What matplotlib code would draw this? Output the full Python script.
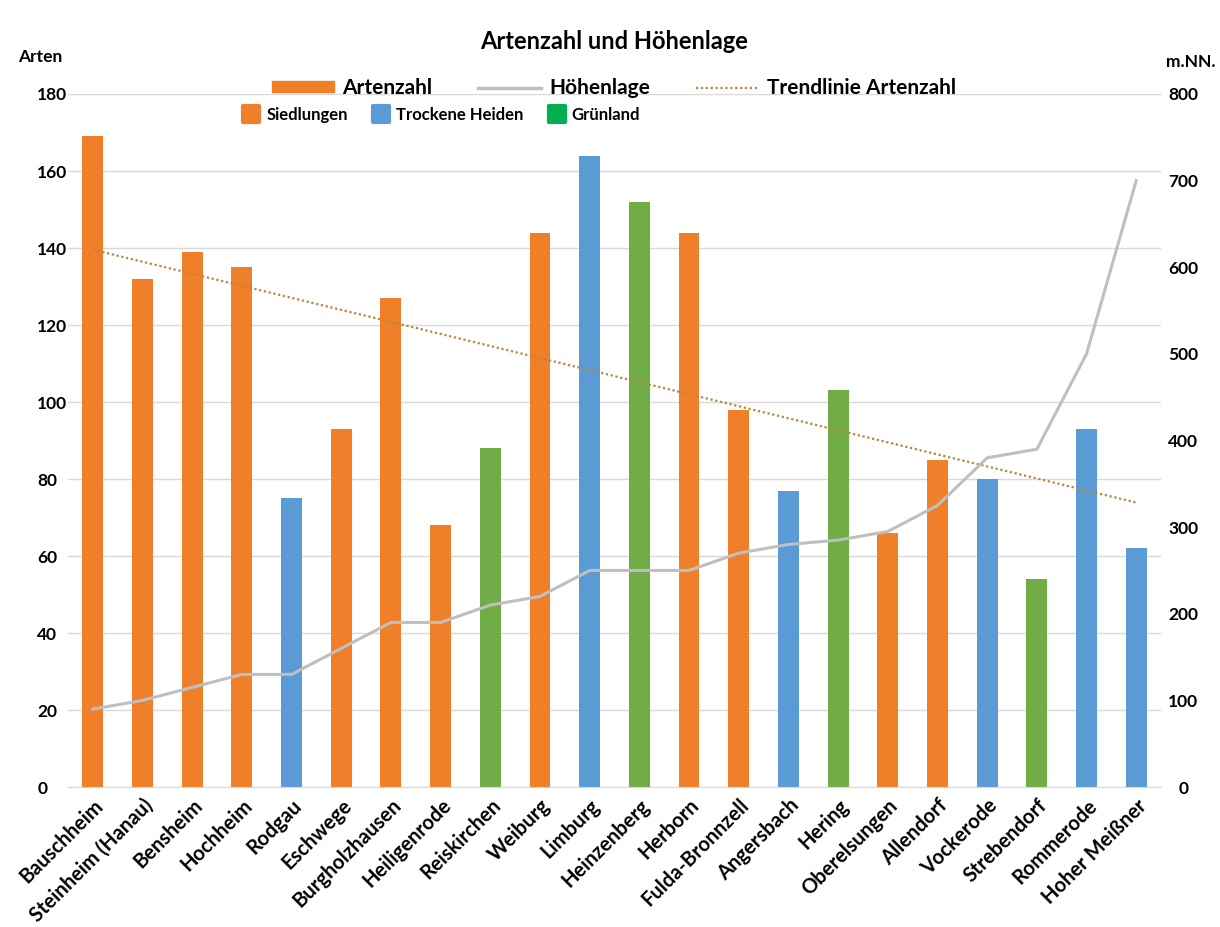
import numpy as np
import matplotlib
matplotlib.use("Agg")
import matplotlib.pyplot as plt
from matplotlib.patches import Patch
from matplotlib.lines import Line2D
from matplotlib.markers import MarkerStyle

plt.rcParams['font.family'] = ['Lato', 'DejaVu Sans']
plt.rcParams['font.weight'] = 'bold'

# data
orte = ['Bauschheim', 'Steinheim (Hanau)', 'Bensheim', 'Hochheim', 'Rodgau', 'Eschwege',
        'Burgholzhausen', 'Heiligenrode', 'Reiskirchen', 'Weiburg', 'Limburg', 'Heinzenberg',
        'Herborn', 'Fulda-Bronnzell', 'Angersbach', 'Hering', 'Oberelsungen', 'Allendorf',
        'Vockerode', 'Strebendorf', 'Rommerode', 'Hoher Meißner']
artenzahl = [169, 132, 139, 135, 75, 93, 127, 68, 88, 144, 164, 152,
             144, 98, 77, 103, 66, 85, 80, 54, 93, 62]
hoehe = [90, 100, 115, 130, 130, 160, 190, 190, 210, 220, 250, 250,
         250, 270, 280, 285, 295, 325, 380, 390, 500, 700]
typ = ['S', 'S', 'S', 'S', 'H', 'S', 'S', 'S', 'G', 'S', 'H', 'G',
       'S', 'S', 'H', 'G', 'S', 'S', 'H', 'G', 'H', 'H']

farben = {'S': '#F07F2A', 'H': '#5B9BD5', 'G': '#70AD47'}
leg_farben = {'S': '#F07F2A', 'H': '#5B9BD5', 'G': '#00B050'}
grau = '#BFBFBF'
trendfarbe = '#B8863B'

fig = plt.figure(figsize=(12.2, 9.27), dpi=100)
ax = fig.add_axes([0.0557, 0.151, 0.896, 0.7476])
ax2 = ax.twinx()

x = np.arange(len(orte))
ax.bar(x, artenzahl, width=0.42, color=[farben[t] for t in typ], zorder=2)

# linear trend of the species count
k, d = np.polyfit(x, artenzahl, 1)
ax.plot(x, k * x + d, linestyle=(0, (1, 1.2)), color=trendfarbe, lw=1.6, zorder=3)

ax2.plot(x, hoehe, color=grau, lw=2.2, zorder=4)

ax.set_xlim(-0.5, len(orte) - 0.5)
ax.set_ylim(0, 180)
ax.set_yticks(np.arange(0, 181, 20))
ax2.set_ylim(0, 800)
ax2.set_yticks(np.arange(0, 801, 100))

ax.yaxis.grid(True, color='#D9D9D9', lw=1)
ax.set_axisbelow(True)
for a in (ax, ax2):
    for s in a.spines.values():
        s.set_visible(False)
ax.spines['bottom'].set_visible(True)
ax.spines['bottom'].set_color('#D9D9D9')

ax.set_xticks(x)
ax.set_xticklabels(orte, rotation=45, ha='right', rotation_mode='anchor', fontsize=14.5)
ax.tick_params(axis='x', length=0, pad=6)
ax.tick_params(axis='y', length=0, pad=22, labelsize=12.5)
for lbl in ax.get_yticklabels():
    lbl.set_ha('left')
ax2.tick_params(axis='y', length=0, pad=16, labelsize=12.5)
for lbl in ax2.get_yticklabels():
    lbl.set_ha('center')

fig.text(0.503, 0.955, 'Artenzahl und Höhenlage', ha='center', va='center', fontsize=17)
fig.text(0.015, 0.938, 'Arten', ha='left', va='center', fontsize=12.5)
fig.text(0.996, 0.933, 'm.NN.', ha='right', va='center', fontsize=12.5)

h1 = [Patch(color=farben['S']),
      Line2D([], [], color=grau, lw=2.5),
      Line2D([], [], color=trendfarbe, lw=1.6, linestyle=(0, (1, 1.2)))]
leg1 = fig.legend(h1, ['Artenzahl', 'Höhenlage', 'Trendlinie Artenzahl'], loc='center',
                  bbox_to_anchor=(0.503, 0.905), ncol=3, frameon=False, fontsize=15,
                  handlelength=3.0, handleheight=0.45, columnspacing=2.2, handletextpad=0.4)

rund = MarkerStyle('s', joinstyle='round')
h2 = [Line2D([], [], marker=rund, linestyle='', markersize=11, color=leg_farben[t], mew=3)
      for t in ['S', 'H', 'G']]
leg2 = fig.legend(h2, ['Siedlungen', 'Trockene Heiden', 'Grünland'], loc='center',
                  bbox_to_anchor=(0.362, 0.876), ncol=3, frameon=False, fontsize=12,
                  handlelength=1.0, columnspacing=1.5, handletextpad=0.4)

fig.savefig('out.png', dpi=100, facecolor='white')
